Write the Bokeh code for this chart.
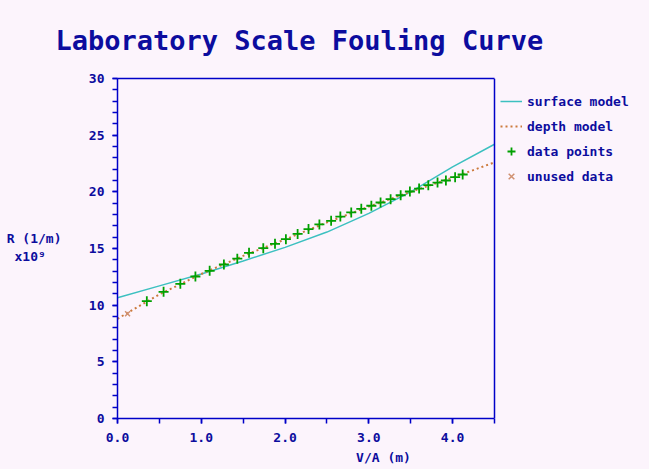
from bokeh.plotting import figure
from bokeh.models import (Range1d, SingleIntervalTicker, PrintfTickFormatter, FixedTicker,
                          LinearAxis, Legend, LegendItem, Span)
from bokeh.embed import file_html
from bokeh.resources import INLINE

# ---- data ----
model_x = [0.0, 0.5, 1.0, 1.5, 2.0, 2.5, 3.0, 3.5, 4.0, 4.5]
surface_y = [10.65, 11.7, 12.75, 13.9, 15.1, 16.45, 18.1, 20.0, 22.2, 24.2]
depth_y = [8.8, 10.95, 12.75, 14.35, 15.8, 17.3, 18.7, 20.0, 21.25, 22.6]

data_x = [0.35, 0.55, 0.75, 0.93, 1.1, 1.27, 1.43, 1.57, 1.74, 1.88, 2.01, 2.15,
          2.28, 2.41, 2.55, 2.66, 2.79, 2.91, 3.03, 3.14, 3.26, 3.38, 3.49, 3.6,
          3.71, 3.82, 3.92, 4.03, 4.12]
data_y = [10.35, 11.18, 11.88, 12.53, 13.03, 13.59, 14.1, 14.62, 15.03, 15.41,
          15.82, 16.29, 16.71, 17.12, 17.44, 17.82, 18.18, 18.5, 18.77, 19.06,
          19.35, 19.7, 20.03, 20.29, 20.59, 20.82, 21.0, 21.29, 21.53]

unused_x = [0.12]
unused_y = [9.24]

X_MIN, X_MAX = 0.0, 4.5
Y_MIN, Y_MAX = 0, 30
x_ticks_interval = 1.0
y_ticks_interval = 5
ylabel_lines = {15.9: "R (1/m)", 14.3: "x10⁹\u00a0\u00a0"}

BG = "#FCF4FC"
BLUE = "#0000C8"
TXT = "#0C0C9E"
FONT = "DejaVu Sans Mono"

W, H = 649, 469
LEFT, TOP, BOTTOM = 117, 78, 51
AXIS_PX = 377  # pixel length of the 0..4.5 axis
frame_w = W - LEFT
x_end = X_MAX * frame_w / AXIS_PX  # frame extends right to hold the legend

p = figure(width=W, height=H, output_backend="svg", toolbar_location=None,
           x_range=Range1d(X_MIN, x_end), y_range=Range1d(Y_MIN, Y_MAX),
           min_border_left=LEFT, min_border_right=0, min_border_top=TOP,
           min_border_bottom=BOTTOM)
p.background_fill_color = BG
p.border_fill_color = BG
p.outline_line_color = None
p.grid.visible = False

p.title.text = "Laboratory Scale Fouling Curve"
p.title.align = "left"
p.title.offset = -62
p.title.standoff = 45
p.title.text_font = FONT
p.title.text_font_style = "bold"
p.title.text_font_size = "27px"
p.title.text_color = TXT

r_surf = p.line(model_x, surface_y, line_color="#3CC0C0", line_width=1.5)
r_depth = p.line(model_x, depth_y, line_color="#CC7A3C", line_width=2, line_dash="2 3")
r_data = p.scatter(data_x, data_y, marker="cross", size=10, line_color="#00A000", line_width=1.8)
r_unused = p.scatter(unused_x, unused_y, marker="x", size=7, line_color="#D09070", line_width=1.5)

# right border of the plotting box
p.add_layout(Span(location=X_MAX, dimension="height", line_color=BLUE, line_width=1.5))

p.xaxis.ticker = SingleIntervalTicker(interval=x_ticks_interval, num_minor_ticks=2)
p.yaxis.ticker = SingleIntervalTicker(interval=y_ticks_interval, num_minor_ticks=5)
p.xaxis.formatter = PrintfTickFormatter(format="%.1f")
p.xaxis.bounds = (X_MIN, X_MAX)
for ax in (p.xaxis, p.yaxis):
    ax.axis_line_color = BLUE
    ax.axis_line_width = 1.5
    ax.major_tick_line_color = BLUE
    ax.minor_tick_line_color = BLUE
    ax.major_tick_line_width = 1.5
    ax.minor_tick_line_width = 1.5
    ax.major_tick_in = 0
    ax.minor_tick_in = 0
    ax.major_tick_out = 5
    ax.minor_tick_out = 5
    ax.major_label_text_font = FONT
    ax.major_label_text_font_style = "bold"
    ax.major_label_text_font_size = "13px"
    ax.major_label_text_color = TXT
p.xaxis.major_label_standoff = 9
p.yaxis.major_label_standoff = 8
p.xaxis.axis_label = "V/A (m)"
p.xaxis.axis_label_standoff = 5
p.xaxis.axis_label_text_font = FONT
p.xaxis.axis_label_text_font_style = "bold"
p.xaxis.axis_label_text_font_size = "13px"
p.xaxis.axis_label_text_color = TXT

# top border of the plotting box
top_axis = LinearAxis(ticker=FixedTicker(ticks=[]), bounds=(X_MIN, X_MAX),
                      axis_line_color=BLUE, axis_line_width=1.5,
                      major_tick_line_color=None, minor_tick_line_color=None,
                      major_tick_out=0, minor_tick_out=0, major_label_text_font_size="0px")
p.add_layout(top_axis, "above")

# horizontal y-axis label, placed through an extra axis with label-only ticks
ylab = LinearAxis(ticker=FixedTicker(ticks=list(ylabel_lines.keys())),
                  major_label_overrides=ylabel_lines,
                  axis_line_color=None, major_tick_line_color=None,
                  minor_tick_line_color=None, major_tick_out=0, minor_tick_out=0,
                  major_label_standoff=24,
                  major_label_text_font=FONT, major_label_text_font_style="bold",
                  major_label_text_font_size="13px", major_label_text_color=TXT)
p.add_layout(ylab, "left")

legend = Legend(items=[LegendItem(label="surface model", renderers=[r_surf]),
                       LegendItem(label="depth model", renderers=[r_depth]),
                       LegendItem(label="data points", renderers=[r_data]),
                       LegendItem(label="unused data", renderers=[r_unused])],
                location=(383, 232), border_line_color=None, background_fill_alpha=0,
                label_text_font=FONT, label_text_font_style="bold",
                label_text_font_size="13px", label_text_color=TXT,
                glyph_width=22, glyph_height=20, label_height=20, spacing=5,
                padding=0, margin=0, label_standoff=5)
p.add_layout(legend)

html = file_html(p, INLINE)
html = html.replace("<body>", '<body style="background-color:%s">' % BG)
open("out.html", "w").write(html)
